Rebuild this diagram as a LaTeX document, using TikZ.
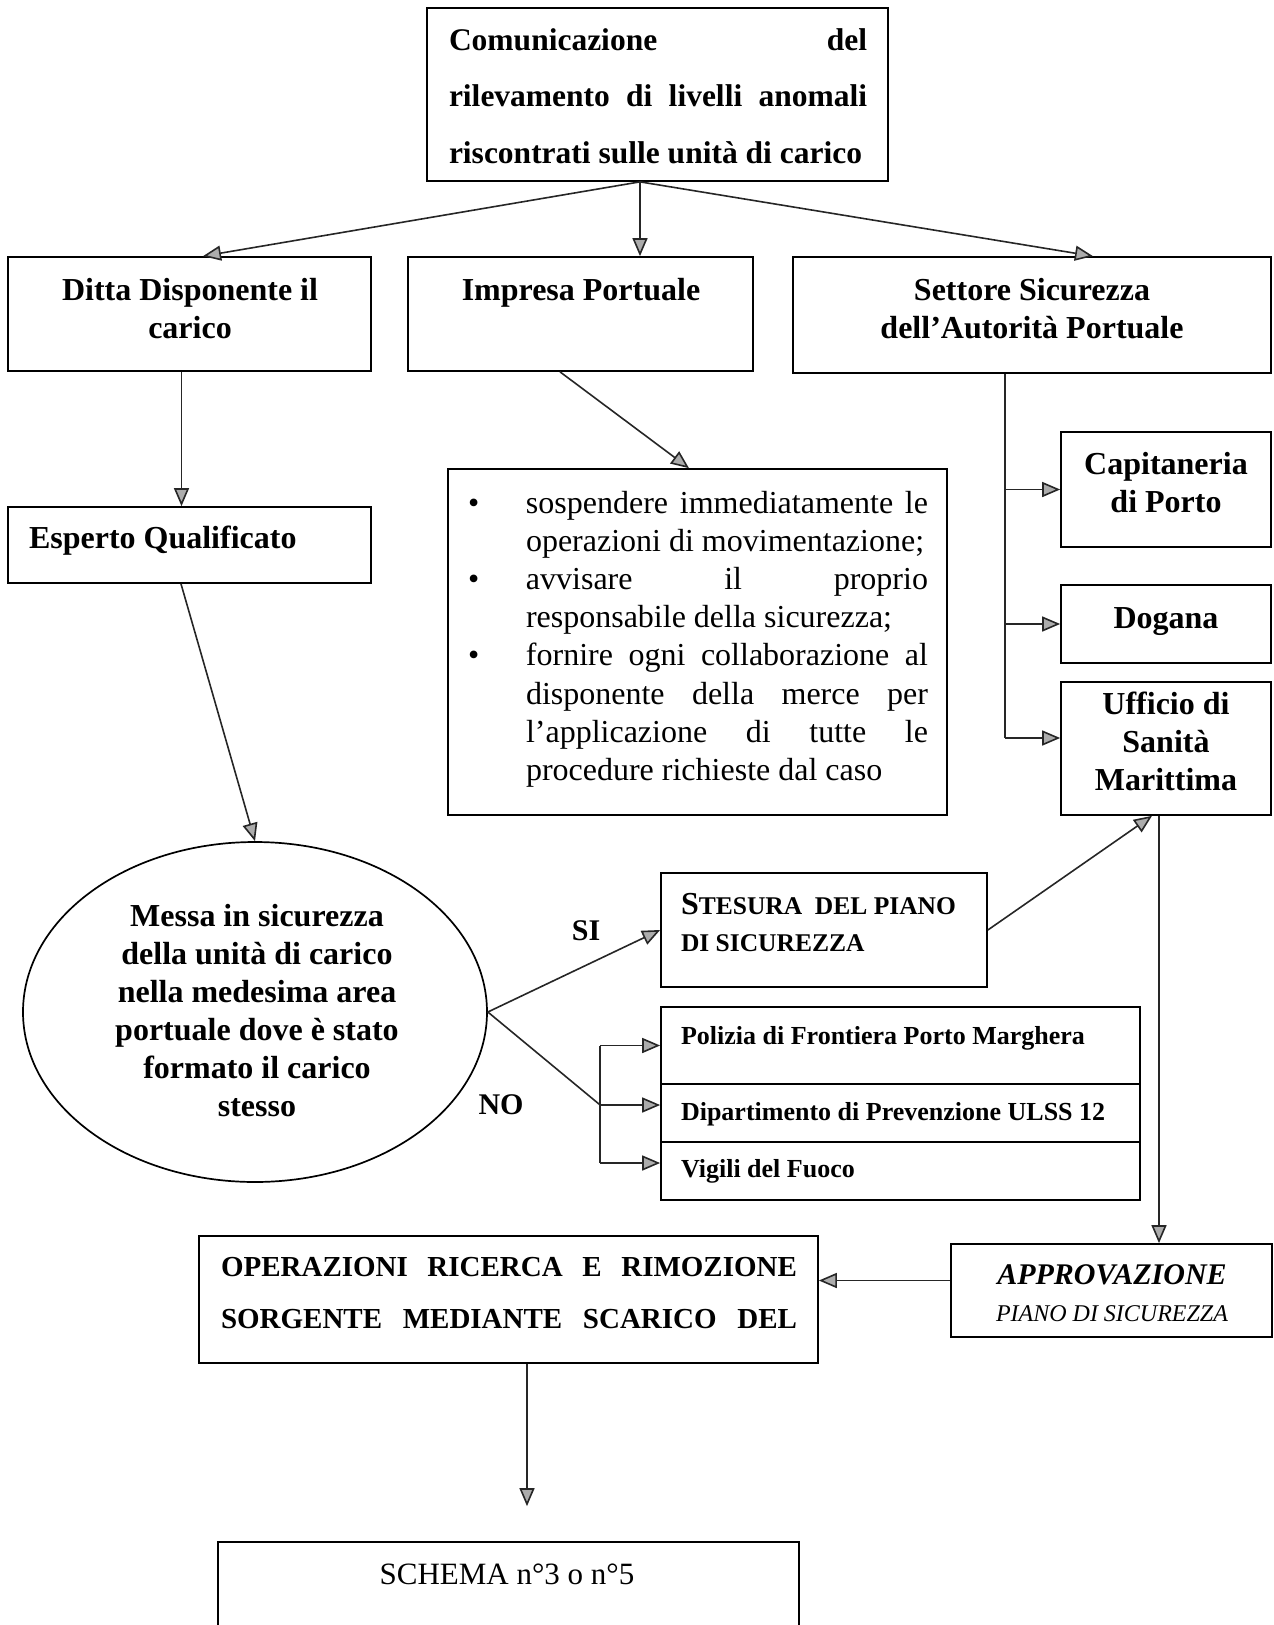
\documentclass[tikz,border=0pt]{standalone}
\usepackage{fontspec}
\setmainfont{Liberation Serif}
\usetikzlibrary{arrows.meta,shapes.geometric,calc}

% bullet list helpers
\newcommand{\bulitem}{\makebox[58pt][l]{\textbullet}}
\newcommand{\bulind}{\hspace*{58pt}}

\tikzset{
  box/.style={draw=black, line width=1.7pt, inner sep=0pt, rectangle},
  conn/.style={draw=black!85, line width=1.6pt},
  arr/.style={conn, -{Triangle[length=18pt,width=15pt,fill=gray!65]}},
  tx/.style={inner sep=0pt, outer sep=0pt},
  bold32/.style={font=\bfseries\fontsize{32}{38}\selectfont},
}

\begin{document}
\begin{tikzpicture}[x=1pt,y=-1pt]
\clip (0,0) rectangle (1274,1625);

% ---------- boxes ----------
\node[box, minimum width=461, minimum height=173] (top)   at (657.5,94.5) {};
\node[box, minimum width=363, minimum height=114] (ditta) at (189.5,314) {};
\node[box, minimum width=345, minimum height=114] (imp)   at (580.5,314) {};
\node[box, minimum width=478, minimum height=116] (set)   at (1032,315) {};
\node[box, minimum width=363, minimum height=76]  (esp)   at (189.5,545) {};
\node[box, minimum width=499, minimum height=346] (bul)   at (697.5,642) {};
\node[box, minimum width=210, minimum height=115] (cap)   at (1166,489.5) {};
\node[box, minimum width=210, minimum height=78]  (dog)   at (1166,624) {};
\node[box, minimum width=210, minimum height=133] (usm)   at (1166,748.5) {};
\node[draw=black, line width=1.7pt, ellipse, inner sep=0pt,
      minimum width=464, minimum height=340] (ell) at (255,1012) {};
\node[box, minimum width=326, minimum height=114] (ste)   at (824,930) {};
\node[box, minimum width=479, minimum height=77]  (pol)   at (900.5,1045.5) {};
\node[box, minimum width=479, minimum height=58]  (dip)   at (900.5,1113) {};
\node[box, minimum width=479, minimum height=58]  (vig)   at (900.5,1171) {};
\node[box, minimum width=619, minimum height=127] (ope)   at (508.5,1299.5) {};
\node[box, minimum width=321, minimum height=93]  (app)   at (1111.5,1290.5) {};
\node[box, minimum width=581, minimum height=108] (sch)   at (508.5,1596) {};

% ---------- texts ----------
\node[tx, anchor=north west, align=left, font=\bfseries\fontsize{31.5}{56.5}\selectfont]
  (top-t) at (449,10.5)
  {\strut\makebox[418pt][s]{Comunicazione del}\\
   \makebox[418pt][s]{rilevamento di livelli anomali}\\
   riscontrati sulle unità di carico};

\node[tx, bold32, anchor=north, align=center] (ditta-t) at (190,273.4)
  {\strut Ditta Disponente il\\carico};
\node[tx, bold32, anchor=base] (imp-t) at (581,300) {Impresa Portuale};
\node[tx, bold32, anchor=north, align=center] (set-t) at (1032,273.4)
  {\strut Settore Sicurezza\\dell’Autorità Portuale};
\node[tx, bold32, anchor=base west] (esp-t) at (29,548) {Esperto Qualificato};

\node[tx, anchor=north west, align=left, font=\fontsize{32}{38.2}\selectfont]
  (bul-t) at (468,486.3)
  {\strut\bulitem\makebox[402pt][s]{sospendere immediatamente le}\\
   \bulind operazioni di movimentazione;\\
   \bulitem\makebox[402pt][s]{avvisare il proprio}\\
   \bulind responsabile della sicurezza;\\
   \bulitem\makebox[402pt][s]{fornire ogni collaborazione al}\\
   \bulind\makebox[402pt][s]{disponente della merce per}\\
   \bulind\makebox[402pt][s]{l’applicazione di tutte le}\\
   \bulind procedure richieste dal caso};

\node[tx, bold32, anchor=north, align=center] (cap-t) at (1166,447.4)
  {\strut Capitaneria\\di Porto};
\node[tx, bold32, anchor=base] (dog-t) at (1166,628) {Dogana};
\node[tx, bold32, anchor=north, align=center] (usm-t) at (1166,687.4)
  {\strut Ufficio di\\Sanità\\Marittima};

\node[tx, bold32, anchor=north, align=center] (ell-t) at (257,899.4)
  {\strut Messa in sicurezza\\della unità di carico\\nella medesima area\\
   portuale dove è stato\\formato il carico\\stesso};

\node[tx, anchor=north west, align=left, font=\bfseries\fontsize{32}{37}\selectfont]
  (ste-t) at (681,888.1)
  {\strut S{\fontsize{25.5}{37}\selectfont TESURA\ \ DEL PIANO}\\
   {\fontsize{25.5}{37}\selectfont DI SICUREZZA}};

\node[tx, anchor=base west, font=\bfseries\fontsize{26}{31}\selectfont] (pol-t) at (681,1044)
  {Polizia di Frontiera Porto Marghera};
\node[tx, anchor=base west, font=\bfseries\fontsize{26}{31}\selectfont] (dip-t) at (681,1120)
  {Dipartimento di Prevenzione ULSS 12};
\node[tx, anchor=base west, font=\bfseries\fontsize{26}{31}\selectfont] (vig-t) at (681,1177)
  {Vigili del Fuoco};

\node[tx, anchor=base, font=\bfseries\fontsize{30}{36}\selectfont] (si) at (586,940) {SI};
\node[tx, anchor=base, font=\bfseries\fontsize{30}{36}\selectfont] (no) at (501,1114) {NO};

\node[tx, anchor=north west, align=left, font=\bfseries\fontsize{29}{52}\selectfont]
  (ope-t) at (221,1239.6)
  {\strut\makebox[576pt][s]{OPERAZIONI RICERCA E RIMOZIONE}\\
   \makebox[576pt][s]{SORGENTE MEDIANTE SCARICO DEL}};

\node[tx, anchor=base, font=\bfseries\itshape\fontsize{30}{36}\selectfont] (app-t1) at (1112,1284)
  {APPROVAZIONE};
\node[tx, anchor=base, font=\itshape\fontsize{24}{30}\selectfont] (app-t2) at (1112,1321)
  {PIANO DI SICUREZZA};

\node[tx, anchor=base, font=\fontsize{31}{37}\selectfont] (sch-t) at (507,1584)
  {SCHEMA n°3 o n°5};

% ---------- connectors ----------
\coordinate (src) at ([xshift=-17.5pt]top.south);
\draw[arr] (src) -- ([xshift=13.5pt]ditta.north);
\draw[arr] (src) -- (src |- imp.north);
\draw[arr] (src) -- ([xshift=61pt]set.north);

\draw[arr] ([xshift=-8pt]ditta.south) -- ([xshift=-8pt]esp.north);
\draw[arr] ([xshift=-20.5pt]imp.south) -- ([xshift=-8.5pt]bul.north);

% distribution line from the safety office
\coordinate (tr) at ([xshift=-27pt]set.south);
\coordinate (usmin) at ([yshift=10.5pt]usm.west);
\draw[conn] (tr) -- (tr |- usmin);
\draw[arr] (tr |- cap.west) -- (cap.west);
\draw[arr] (tr |- dog.west) -- (dog.west);
\draw[arr] (tr |- usmin) -- (usmin);

\draw[arr] ([xshift=-8.5pt]esp.south) -- (ell.north);

% SI / NO branches
\draw[arr] (ell.east) -- (ste.west);
\coordinate (brk) at ([xshift=-60pt,yshift=8pt]dip.west);
\coordinate (dipin) at ([yshift=8pt]dip.west);
\coordinate (vigin) at ([yshift=8pt]vig.west);
\draw[conn] (ell.east) -- (brk);
\draw[conn] (brk |- pol.west) -- (brk |- vigin);
\draw[arr] (brk |- pol.west) -- (pol.west);
\draw[arr] (brk) -- (dipin);
\draw[arr] (brk |- vigin) -- (vigin);

\draw[arr] (ste.east) -- ([xshift=-14pt]usm.south);
\coordinate (usmout) at ([xshift=-7pt]usm.south);
\draw[arr] (usmout) -- (usmout |- app.north);
\draw[arr] ([yshift=10pt]app.west) -- ([yshift=10pt]app.west -| ope.east);
\draw[arr, shorten >=35pt] ([xshift=18.5pt]ope.south) -- ([xshift=18.5pt]ope.south |- sch.north);

\end{tikzpicture}
\end{document}
